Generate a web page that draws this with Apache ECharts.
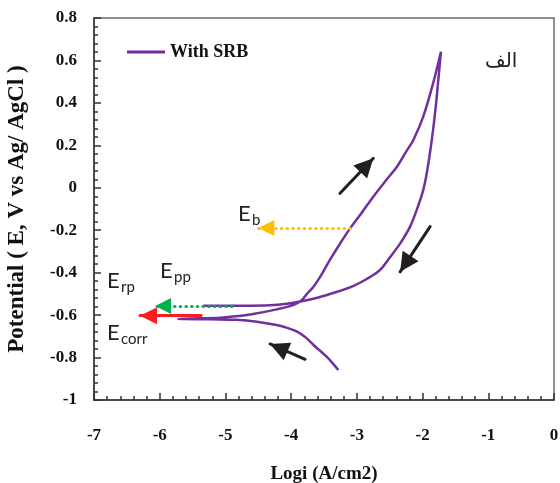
<!DOCTYPE html>
<html>
<head>
<meta charset="utf-8">
<script src="https://cdn.jsdelivr.net/npm/echarts@6/dist/echarts.min.js"></script>
<style>
  html, body { margin: 0; padding: 0; background: #fff; }
  #main { width: 560px; height: 483px; }
</style>
</head>
<body>
<div id="main"></div>
<script>
// cyclic polarization curve (log i, potential)
var logI = [
  -3.28, -3.37, -3.46, -3.56, -3.66, -3.78, -3.91, -4.06, -4.22, -4.52, -4.83, -5.2, -5.72,
  -5.4, -5.08, -4.8, -4.58, -4.22, -3.97, -3.84, -3.76, -3.66, -3.54, -3.41, -3.25, -3.10,
  -2.92, -2.75, -2.57, -2.39, -2.25, -2.14, -1.99, -1.84, -1.72,
  -1.76, -1.80, -1.86, -1.93, -1.99, -2.09, -2.19, -2.34, -2.49, -2.65, -2.85, -3.05, -3.3,
  -3.6, -3.9, -4.2, -4.6, -5.34
];
var potential = [
  -0.859, -0.826, -0.796, -0.768, -0.741, -0.705, -0.678, -0.660, -0.647, -0.631, -0.622, -0.620, -0.618,
  -0.615, -0.612, -0.604, -0.595, -0.573, -0.553, -0.530, -0.500, -0.466, -0.41, -0.340, -0.26, -0.190,
  -0.115, -0.042, 0.03, 0.099, 0.17, 0.225, 0.335, 0.492, 0.641,
  0.51, 0.38, 0.225, 0.08, -0.011, -0.105, -0.183, -0.262, -0.325, -0.388, -0.43, -0.462, -0.49,
  -0.518, -0.538, -0.551, -0.556, -0.556
];

// marker arrows [from, to]
var ebArrow = [[-3.10, -0.19], [-4.50, -0.19]];
var eppArrow = [[-4.90, -0.557], [-6.07, -0.557]];
var ecorrArrow = [[-5.37, -0.603], [-6.30, -0.603]];
var scanArrows = [
  [[-3.256, -0.026], [-2.749, 0.139]],
  [[-1.886, -0.183], [-2.342, -0.396]],
  [[-3.788, -0.808], [-4.321, -0.736]]
];

var seriesName = 'With SRB';
var xTitle = 'Logi (A/cm2)';
var yTitle = 'Potential ( E, V vs Ag/ AgCl )';

var curve = [];
for (var i = 0; i < logI.length; i++) {
  curve.push([logI[i], potential[i]]);
}

var serif = "'Liberation Serif', 'Times New Roman', serif";

function arrowSeries(pairs, color, width, dash, head) {
  return {
    type: 'line',
    data: [],
    silent: true,
    z: 5,
    markLine: {
      silent: true,
      animation: false,
      symbol: ['none', 'triangle'],
      symbolSize: head,
      // put the tip of the head on the end point
      symbolOffset: [[0, 0], [0, head / 2]],
      label: { show: false },
      emphasis: { disabled: true },
      lineStyle: { color: color, width: width, type: dash, cap: 'round', opacity: 1 },
      data: pairs.map(function (p) {
        return [{ coord: p[0] }, { coord: p[1] }];
      })
    }
  };
}

// E with subscript labels
var eLabels = [
  { sub: 'b', x: 238, y: 203 },
  { sub: 'pp', x: 160, y: 260 },
  { sub: 'rp', x: 107, y: 270 },
  { sub: 'corr', x: 107, y: 322 }
];
var graphics = [];
eLabels.forEach(function (l) {
  graphics.push({
    type: 'text', x: l.x, y: l.y, silent: true,
    style: { text: 'E', fill: '#222', fontSize: 22, fontFamily: 'Lato', verticalAlign: 'top' }
  });
  graphics.push({
    type: 'text', x: l.x + 14, y: l.y + 10, silent: true,
    style: { text: l.sub, fill: '#222', fontSize: 15, fontFamily: 'Lato', verticalAlign: 'top' }
  });
});
graphics.push({
  type: 'text', x: 485, y: 52, silent: true,
  style: { text: 'الف', fill: '#222', fontSize: 20, fontFamily: 'DejaVu Sans', verticalAlign: 'top' }
});

var axisColor = '#333';

var chart = echarts.init(document.getElementById('main'));
chart.setOption({
  animation: false,
  backgroundColor: '#fff',
  grid: {
    left: 94, right: 6, top: 18, bottom: 83,
    outerBoundsMode: 'none',
    show: true, borderColor: '#6a6a6a', borderWidth: 1.5
  },
  legend: {
    data: [seriesName],
    left: 127, top: 43,
    padding: 0,
    icon: 'rect',
    itemWidth: 38, itemHeight: 3,
    itemStyle: { color: '#7030A0' },
    textStyle: { fontFamily: serif, fontWeight: 'bold', fontSize: 18, color: '#111' }
  },
  xAxis: {
    type: 'value',
    min: -7, max: 0, interval: 1,
    name: xTitle,
    nameLocation: 'middle',
    nameGap: 65,
    nameTextStyle: { fontFamily: serif, fontWeight: 'bold', fontSize: 19, color: '#111' },
    axisLine: { show: true, onZero: false, lineStyle: { color: axisColor, width: 1.5 } },
    axisTick: { show: true, inside: true, length: 7, lineStyle: { color: axisColor, width: 1.5 } },
    minorTick: { show: true, splitNumber: 5, length: 4, lineStyle: { color: axisColor, width: 1.5 } },
    splitLine: { show: false },
    axisLabel: { margin: 27, fontFamily: serif, fontWeight: 'bold', fontSize: 17, color: '#111' }
  },
  yAxis: {
    type: 'value',
    min: -1, max: 0.8, interval: 0.2,
    name: yTitle,
    nameLocation: 'middle',
    nameGap: 65,
    nameTextStyle: { fontFamily: serif, fontWeight: 'bold', fontSize: 23, color: '#111' },
    axisLine: { show: true, onZero: false, lineStyle: { color: axisColor, width: 1.5 } },
    axisTick: { show: true, inside: true, length: 7, lineStyle: { color: axisColor, width: 1.5 } },
    minorTick: { show: true, splitNumber: 5, length: 4, lineStyle: { color: axisColor, width: 1.5 } },
    splitLine: { show: false },
    axisLabel: {
      margin: 17, fontFamily: serif, fontWeight: 'bold', fontSize: 17, color: '#111',
      formatter: function (v) { return String(parseFloat(v.toFixed(1))); }
    }
  },
  graphic: graphics,
  series: [
    {
      name: seriesName,
      type: 'line',
      data: curve,
      symbol: 'none',
      showSymbol: false,
      smooth: 0.3,
      lineStyle: { color: '#7030A0', width: 2.5 },
      itemStyle: { color: '#7030A0' },
      emphasis: { disabled: true }
    },
    arrowSeries([ebArrow], '#FFC000', 3, [0.5, 5.2], 16),
    arrowSeries([eppArrow], '#00B050', 3, [0.5, 5.2], 16),
    arrowSeries([ecorrArrow], '#FF1C1C', 3, 'solid', 17),
    arrowSeries(scanArrows, '#231F20', 3, 'solid', 19)
  ]
});
</script>
</body>
</html>
